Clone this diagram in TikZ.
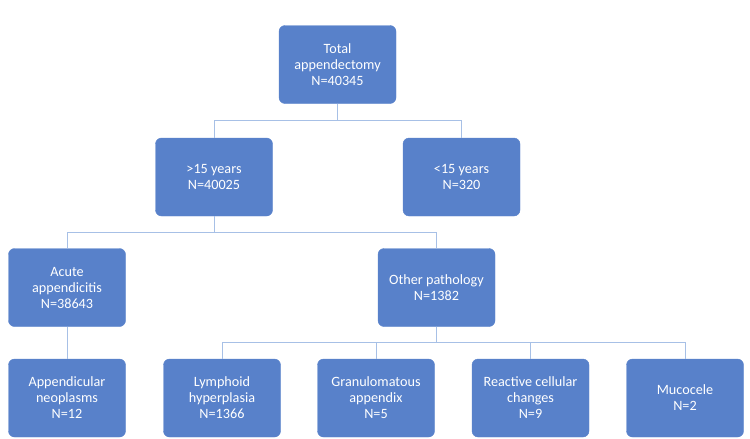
\documentclass[tikz,border=0pt]{standalone}
\usepackage{fontspec}
\setmainfont{Carlito}
\usetikzlibrary{positioning}
\definecolor{boxblue}{HTML}{5881CA}
\definecolor{lineblue}{HTML}{A7C0E6}

\begin{document}
\begin{tikzpicture}[
			x=1pt, y=-1pt,
			every node/.style={font=\fontsize{14.2}{16}\selectfont},
			process/.style={
				rectangle,
				rounded corners=6pt,
				minimum width=117pt,
				minimum height=78pt,
				text centered,
				align=center,
				fill=boxblue,
				draw=boxblue,
				text=white
			},
			link/.style={draw=lineblue, line width=1pt}
			]
			
			\useasboundingbox (0,0) rectangle (750,439);
			
			% Nodes
			\node (total) [process] at (337.5,64.5) {Total\\appendectomy\\N=40345};
			\node (older) [process] at (214,177) {>15 years\\N=40025};
			\node (younger) [process] at (461.5,177) {<15 years\\N=320};
			\node (acute) [process] at (67,287.5) {Acute\\appendicitis\\N=38643};
			\node (other) [process] at (436.5,287.5) {Other pathology\\N=1382};
			\node (neoplasm) [process] at (67,398) {Appendicular\\neoplasms\\N=12};
			\node (lymphoid) [process] at (222,398) {Lymphoid\\hyperplasia\\N=1366};
			\node (granulo) [process] at (376,398) {Granulomatous\\appendix\\N=5};
			\node (reactive) [process] at (530.5,398) {Reactive cellular\\changes\\N=9};
			\node (mucocele) [process] at (685,398) {Mucocele\\N=2};
			
			% Connectors
			\draw [link] (total.south) -- ++(0,17) -| (older.north);
			\draw [link] (total.south) -- ++(0,17) -| (younger.north);
			\draw [link] (older.south) -- ++(0,16) -| (acute.north);
			\draw [link] (older.south) -- ++(0,16) -| (other.north);
			\draw [link] (acute) -- (neoplasm);
			\draw [link] (other.south) -- ++(0,16) -| (lymphoid.north);
			\draw [link] (other.south) -- ++(0,16) -| (granulo.north);
			\draw [link] (other.south) -- ++(0,16) -| (reactive.north);
			\draw [link] (other.south) -- ++(0,16) -| (mucocele.north);
			
		\end{tikzpicture}
\end{document}
